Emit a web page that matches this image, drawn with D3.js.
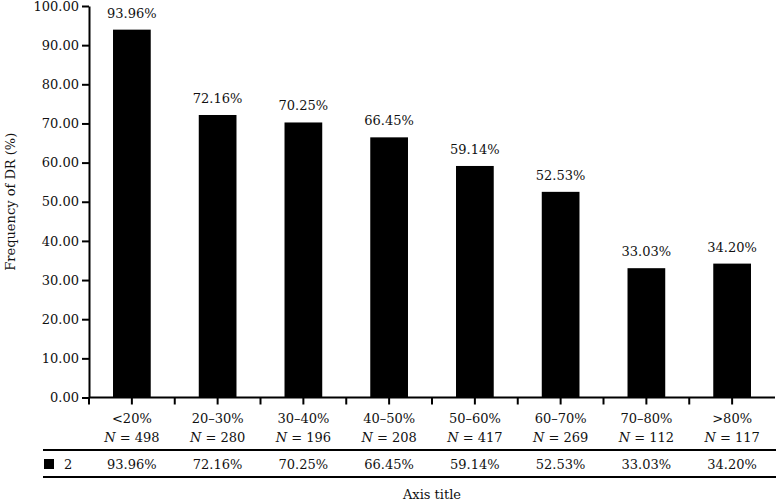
<!DOCTYPE html>
<html>
<head>
<meta charset="utf-8">
<script src="https://cdn.jsdelivr.net/npm/d3@7"></script>
<style>
  body { margin: 0; background: #fff; }
  svg text { font-family: 'DejaVu Serif', serif; fill: #111; font-size: 13px; }
</style>
</head>
<body>
<div id="chart"></div>
<script>
const categories = ['<20%', '20–30%', '30–40%', '40–50%', '50–60%', '60–70%', '70–80%', '>80%'];
const counts = [498, 280, 196, 208, 417, 269, 112, 117];
const values = [93.96, 72.16, 70.25, 66.45, 59.14, 52.53, 33.03, 34.20];
const yTicks = [0, 10, 20, 30, 40, 50, 60, 70, 80, 90, 100];
const seriesName = '2';

const width = 776;
const height = 501;
const margin = { top: 6, right: 1, bottom: 104, left: 89 };
const fontSize = '13px';

const svg = d3.select('#chart')
  .append('svg')
  .attr('width', width)
  .attr('height', height);

const x = d3.scaleBand()
  .domain(categories)
  .range([margin.left, width - margin.right])
  .paddingInner(0)
  .paddingOuter(0);

const y = d3.scaleLinear()
  .domain([0, 100])
  .range([height - margin.bottom + 0.5, margin.top]);

const barW = x.bandwidth() * 0.44;

// bars
svg.append('g')
  .selectAll('rect')
  .data(values)
  .join('rect')
  .attr('x', (d, i) => x(categories[i]) + (x.bandwidth() - barW) / 2)
  .attr('y', (d) => y(d))
  .attr('width', barW)
  .attr('height', (d) => y(0) - y(d))
  .attr('fill', '#000');

// value labels
svg.append('g')
  .selectAll('text')
  .data(values)
  .join('text')
  .attr('x', (d, i) => x(categories[i]) + x.bandwidth() / 2)
  .attr('y', (d) => y(d) - 12)
  .attr('text-anchor', 'middle')
  .text((d) => d.toFixed(2) + '%');

// y axis
const yAxis = svg.append('g')
  .attr('transform', `translate(${margin.left},0)`)
  .call(d3.axisLeft(y).tickValues(yTicks).tickFormat(d3.format('.2f')).tickSize(7).tickSizeOuter(0));
yAxis.select('.domain').attr('stroke', '#000').attr('stroke-width', 2);
yAxis.selectAll('.tick line').attr('stroke', '#000').attr('stroke-width', 2);
yAxis.selectAll('.tick text')
  .attr('x', -10)
  .style('font-size', fontSize)
  .style('font-family', "'DejaVu Serif', serif")
  .attr('fill', '#111');

// x axis line with ticks at band edges and centres
const xAxisG = svg.append('g');
xAxisG.append('line')
  .attr('x1', margin.left).attr('x2', width - margin.right)
  .attr('y1', y(0)).attr('y2', y(0))
  .attr('stroke', '#000').attr('stroke-width', 2);
const tickXs = [];
categories.forEach((c) => {
  tickXs.push(x(c));
  tickXs.push(x(c) + x.bandwidth() / 2);
});
xAxisG.selectAll('.xt')
  .data(tickXs)
  .join('line')
  .attr('class', 'xt')
  .attr('x1', (d) => d).attr('x2', (d) => d)
  .attr('y1', y(0)).attr('y2', y(0) + 7)
  .attr('stroke', '#000').attr('stroke-width', 2);

// category labels
const catG = svg.append('g');
categories.forEach((c, i) => {
  const cx = x(c) + x.bandwidth() / 2;
  catG.append('text')
    .attr('x', cx).attr('y', 423)
    .attr('text-anchor', 'middle')
    .text(c);
  const t = catG.append('text')
    .attr('x', cx).attr('y', 442)
    .attr('text-anchor', 'middle');
  t.append('tspan').style('font-style', 'italic').text('N');
  t.append('tspan').text(' = ' + counts[i]);
});

// data table
const tableLeft = 43;
svg.append('line')
  .attr('x1', tableLeft).attr('x2', width)
  .attr('y1', 450).attr('y2', 450)
  .attr('stroke', '#000').attr('stroke-width', 2);
svg.append('line')
  .attr('x1', tableLeft).attr('x2', width)
  .attr('y1', 477).attr('y2', 477)
  .attr('stroke', '#000').attr('stroke-width', 2);
svg.append('rect')
  .attr('x', tableLeft + 1).attr('y', 459)
  .attr('width', 10).attr('height', 10)
  .attr('fill', '#000');
svg.append('text')
  .attr('x', 64).attr('y', 469)
  .text(seriesName);
svg.append('g')
  .selectAll('text')
  .data(values)
  .join('text')
  .attr('x', (d, i) => x(categories[i]) + x.bandwidth() / 2)
  .attr('y', 469)
  .attr('text-anchor', 'middle')
  .text((d) => d.toFixed(2) + '%');

// axis titles
svg.append('text')
  .attr('x', 432)
  .attr('y', 499)
  .attr('text-anchor', 'middle')
  .text('Axis title');

svg.append('text')
  .attr('transform', `translate(15, ${(y(0) + y(100)) / 2}) rotate(-90)`)
  .attr('text-anchor', 'middle')
  .text('Frequency of DR (%)');
</script>
</body>
</html>
